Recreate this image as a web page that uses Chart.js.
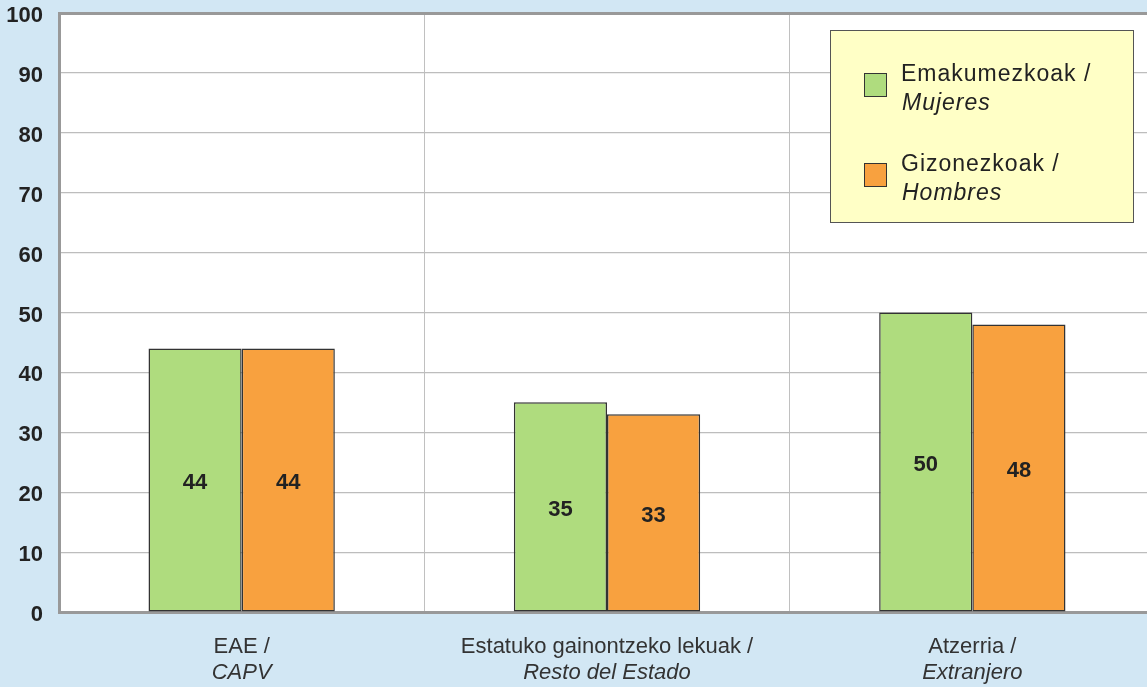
<!DOCTYPE html>
<html>
<head>
<meta charset="utf-8">
<script src="https://cdn.jsdelivr.net/npm/chart.js@4.4.0/dist/chart.umd.min.js"></script>
<style>
  html, body { margin: 0; padding: 0; background: #d2e7f4; overflow: hidden; }
  #wrap { position: relative; width: 1155px; height: 687px; }
</style>
</head>
<body>
<div id="wrap"><canvas id="chart"></canvas></div>
<script>
// Datos
const categorias = [['EAE /', 'CAPV'], ['Estatuko gainontzeko lekuak /', 'Resto del Estado'], ['Atzerria /', 'Extranjero']];
const mujeres = [44, 35, 50];
const hombres = [44, 33, 48];
const series = [['Emakumezkoak /', 'Mujeres'], ['Gizonezkoak /', 'Hombres']];
const colores = ['#afdc7e', '#f8a13f'];

const FONT = '"Liberation Sans", Arial, sans-serif';

// Fondo blanco del área de trazado
const fondoPlugin = {
    id: 'fondo',
    beforeDraw(chart) {
        const a = chart.chartArea, ctx = chart.ctx;
        ctx.save(); ctx.fillStyle = '#fff'; ctx.fillRect(a.left, a.top, a.right - a.left, a.bottom - a.top); ctx.restore();
    }
};

// Etiquetas de valor dentro de las barras
const valoresPlugin = {
    id: 'valores',
    afterDatasetsDraw(chart) {
        const ctx = chart.ctx;
        ctx.save();
        ctx.font = 'bold 22px ' + FONT; ctx.fillStyle = '#222'; ctx.textAlign = 'center'; ctx.textBaseline = 'middle';
        chart.data.datasets.forEach((ds, i) => {
            chart.getDatasetMeta(i).data.forEach((el, j) => {
                ctx.fillText(String(ds.data[j]), el.x, (el.y + el.base) / 2 + 3);
            });
        });
        ctx.restore();
    }
};

// Etiquetas del eje X en dos líneas (normal + cursiva)
const ejeXPlugin = {
    id: 'ejeX',
    afterDraw(chart) {
        const ctx = chart.ctx, x = chart.scales.x;
        ctx.save();
        ctx.fillStyle = '#333'; ctx.textAlign = 'center'; ctx.textBaseline = 'middle';
        categorias.forEach((c, i) => {
            const px = x.getPixelForValue(i);
            ctx.font = '22px ' + FONT; ctx.fillText(c[0], px, 647);
            ctx.font = 'italic 22px ' + FONT; ctx.fillText(c[1], px, 673);
        });
        ctx.restore();
    }
};

// Leyenda en recuadro amarillo
const leyendaPlugin = {
    id: 'leyenda',
    afterDraw(chart) {
        const ctx = chart.ctx;
        ctx.save();
        ctx.fillStyle = '#ffffc6'; ctx.fillRect(830, 30, 303, 192);
        ctx.strokeStyle = '#555'; ctx.lineWidth = 1; ctx.strokeRect(830.5, 30.5, 303, 192);
        const ys = [73, 163];
        series.forEach((s, i) => {
            ctx.fillStyle = colores[i]; ctx.fillRect(864, ys[i], 23, 24);
            ctx.strokeStyle = '#333'; ctx.strokeRect(864.5, ys[i] + 0.5, 22, 23);
            ctx.fillStyle = '#222'; ctx.textAlign = 'left'; ctx.textBaseline = 'middle';
            ctx.letterSpacing = '1px';
            ctx.font = '23px ' + FONT; ctx.fillText(s[0], 901, ys[i] + 2);
            ctx.font = 'italic 23px ' + FONT; ctx.fillText(s[1], 902, ys[i] + 31);
        });
        ctx.restore();
    }
};

new Chart(document.getElementById('chart'), {
    type: 'bar',
    data: {
        labels: categorias.map(c => c.join(' ')),
        datasets: [
            { label: series[0].join(' '), data: mujeres, backgroundColor: colores[0], borderColor: '#333', borderWidth: 1.5, borderSkipped: false },
            { label: series[1].join(' '), data: hombres, backgroundColor: colores[1], borderColor: '#333', borderWidth: 1.5, borderSkipped: false }
        ]
    },
    options: {
        responsive: true, maintainAspectRatio: false, animation: false,
        layout: { padding: { top: 0, bottom: 75, left: 0, right: 0 } },
        categoryPercentage: 0.51, barPercentage: 1.0,
        plugins: { legend: { display: false }, tooltip: { enabled: false } },
        scales: {
            x: {
                ticks: { display: false },
                grid: { color: '#c0c0c0', lineWidth: 1, drawTicks: false, offset: true },
                border: { color: '#999', width: 3 }
            },
            y: {
                min: 0, max: 100,
                afterFit(scale) { scale.width = 59; scale.paddingTop = 13; },
                ticks: { stepSize: 10, padding: 16, labelOffset: 3, color: '#222', font: { family: FONT, size: 22, weight: 'bold' } },
                grid: {
                    drawTicks: false,
                    color: ctx => ctx.tick && ctx.tick.value === 100 ? '#999' : '#bdbdbd',
                    lineWidth: ctx => ctx.tick && ctx.tick.value === 100 ? 3 : 1.2
                },
                border: { color: '#999', width: 3 }
            }
        }
    },
    plugins: [fondoPlugin, valoresPlugin, ejeXPlugin, leyendaPlugin]
});
</script>
</body>
</html>
